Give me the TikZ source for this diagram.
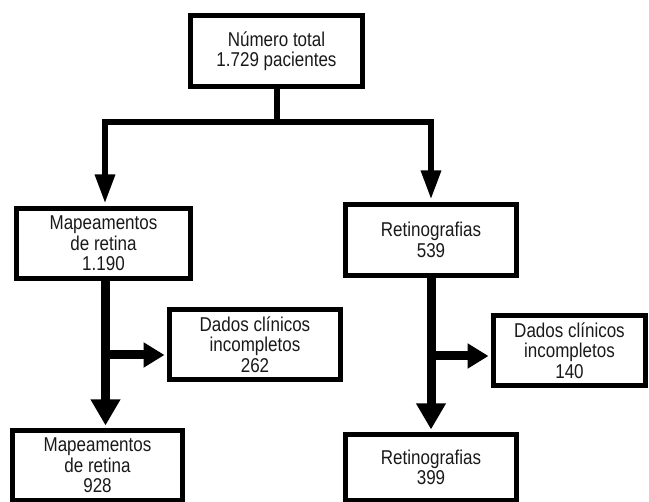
\documentclass[tikz,border=0pt]{standalone}
\usepackage{fontspec}
\setmainfont{Liberation Sans}[FakeStretch=0.85]
\usetikzlibrary{arrows.meta}
\begin{document}
\begin{tikzpicture}[x=1pt,y=-1pt,
  box/.style={draw, line width=5pt, inner sep=0pt, align=center,
    font=\fontsize{20}{20.5}\selectfont, text=black!90},
  conn/.style={line width=6pt, line join=miter, shorten >=2.5pt, shorten <=2.5pt},
  bigconn/.style={line width=9pt, line join=miter},
  headS/.tip={Triangle[width=19pt,length=29pt]},
  headB/.tip={Triangle[width=28pt,length=26pt]},
  headM/.tip={Triangle[width=24pt,length=21pt]}]
\useasboundingbox (0,0) rectangle (649,502);
% boxes
\node[box, minimum width=172pt, minimum height=71pt] (top) at (276.5,51) {Número total\\1.729 pacientes};
\node[box, minimum width=174pt, minimum height=70pt] (map1) at (103.5,243.5) {Mapeamentos\\de retina\\1.190};
\node[box, minimum width=171pt, minimum height=71pt] (ret1) at (431,240) {Retinografias\\539};
\node[box, minimum width=171pt, minimum height=70pt] (dad1) at (255,344.5) {Dados clínicos\\incompletos\\262};
\node[box, minimum width=152pt, minimum height=70pt] (dad2) at (569.5,350.5) {Dados clínicos\\incompletos\\140};
\node[box, minimum width=170pt, minimum height=70pt] (map2) at (97.5,465.5) {Mapeamentos\\de retina\\928};
\node[box, minimum width=171pt, minimum height=66pt] (ret2) at (431,467.5) {Retinografias\\399};
% junction points
\coordinate (jl) at (105,122);
\coordinate (jr) at (431,122);
\coordinate (bl) at (105.5,355);
\coordinate (br) at (431,356);
% top split
\draw[line width=6pt] (top.south) -- (top.south |- jl);
\draw[conn, headS-headS] (map1.north -| jl) -- (jl) -- (jr) -- (ret1.north -| jr);
% left column
\draw[bigconn, -headB, shorten >=2.5pt] (map1.south -| bl) -- (map2.north -| bl);
\draw[bigconn, -headM, shorten >=2.5pt] (bl) -- (bl -| dad1.west);
% right column
\draw[bigconn, -headB, shorten >=2.5pt] (ret1.south -| br) -- (ret2.north -| br);
\draw[bigconn, -headM, shorten >=2.5pt] (br) -- (br -| dad2.west);
\end{tikzpicture}
\end{document}
